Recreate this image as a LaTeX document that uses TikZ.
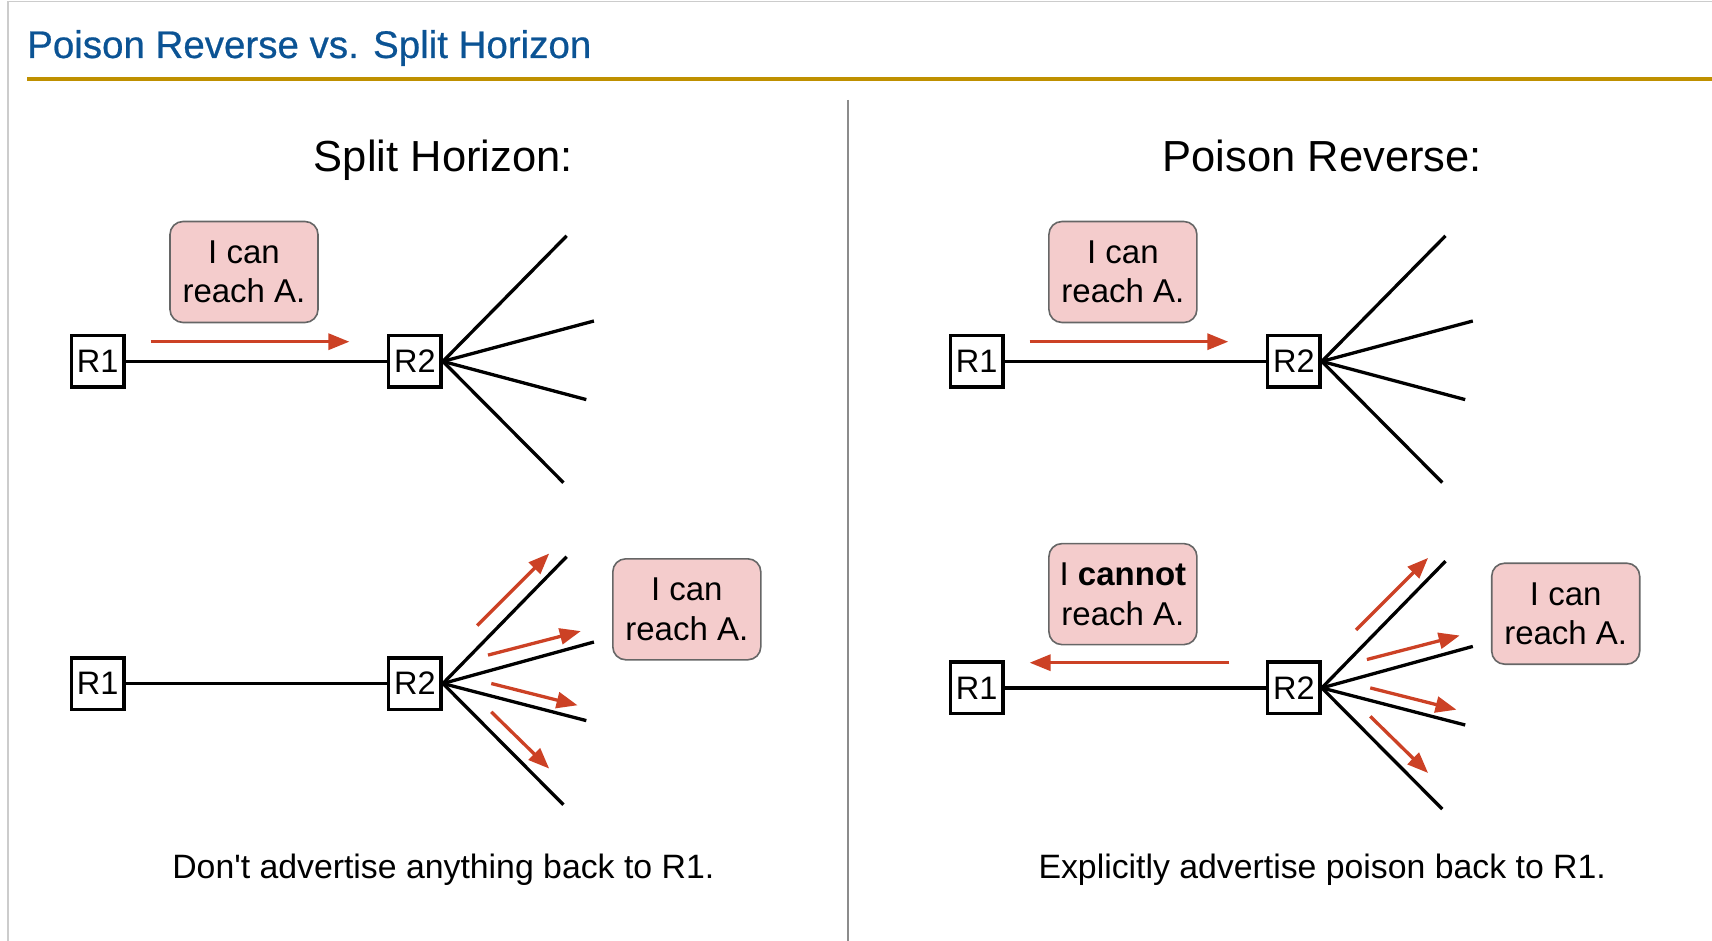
\documentclass[tikz,border=0pt]{standalone}
\usepackage{fontspec}
\setmainfont{Liberation Sans}
\usetikzlibrary{arrows.meta}

\definecolor{titleblue}{HTML}{0B5394}
\definecolor{rulegold}{HTML}{BF9000}
\definecolor{notepink}{HTML}{F4CCCC}
\definecolor{noteedge}{HTML}{666666}
\definecolor{advred}{HTML}{CC4125}
\definecolor{framegray}{HTML}{CCCCCC}
\definecolor{dividergray}{HTML}{8C8C8C}

\tikzset{
  router/.style={draw=black, line width=3.5pt, fill=white,
    minimum width=52.5pt, minimum height=51.5pt, inner sep=0pt,
    font=\fontsize{32.5}{38}\selectfont},
  link/.style={draw=black, line width=3.3pt},
  msg/.style={draw=noteedge, line width=1.6pt, fill=notepink,
    rounded corners=13pt, minimum width=148pt, minimum height=101pt,
    align=center, inner sep=0pt, font=\fontsize{33}{39.5}\selectfont},
  adv/.style={draw=advred, line width=3.3pt,
    -{Triangle[length=21pt,width=16pt]}},
  heading/.style={anchor=base, inner sep=0pt, font=\fontsize{43.5}{52}\selectfont},
  caption/.style={anchor=base, inner sep=0pt, font=\fontsize{33.8}{40}\selectfont},
}

\begin{document}
\begin{tikzpicture}[x=1pt,y=-1pt]
\useasboundingbox (0,0) rectangle (1712,941);

% page frame, title and rules
\draw[framegray, line width=1.5pt] (8,941) -- (8,1.5) -- (1712,1.5);
\node[anchor=base west, inner sep=0pt, text=titleblue,
      font=\fontsize{38.5}{47}\selectfont] (title) at (27,58)
      {\addfontfeature{FakeBold=0.6}Poison Reverse vs. Split Horizon};
\draw[rulegold, line width=4pt] (27,78.6) -- (1712,78.6);
\draw[dividergray, line width=2pt] (848,100) -- (848,941);

% column headings
\node[heading] (headL) at (443.3,172) {Split Horizon:};
\node[heading] (headR) at (1322.2,172) {Poison Reverse:};

% ---------- Split horizon, first step ----------
\node[router] (r1a) at (97.7,361.4) {R1};
\node[router] (r2a) at (414.9,361.4) {R2};
\draw[link] (r1a) -- (r2a);
\coordinate (a1) at (566.6,235.8);
\coordinate (a2) at (593.9,321);
\coordinate (a3) at (586.3,399.6);
\coordinate (a4) at (563.4,482.6);
\foreach \e in {a1,a2,a3,a4} \draw[link] (r2a.east) -- (\e);
\coordinate (sa) at (150.7,341.7);
\coordinate (ea) at (349.4,341.7);
\draw[adv] (sa) -- (ea);
\node[msg] (ma) at (244,272) {I can\\reach A.};

% ---------- Split horizon, second step ----------
\node[router] (r1b) at (97.7,683.5) {R1};
\node[router] (r2b) at (414.9,683.5) {R2};
\draw[link] (r1b) -- (r2b);
\coordinate (b1) at (566.6,556.8);
\coordinate (b2) at (593.9,642);
\coordinate (b3) at (586.3,720.6);
\coordinate (b4) at (563.4,804.7);
\foreach \e in {b1,b2,b3,b4} \draw[link] (r2b.east) -- (\e);
\coordinate (bs1) at (477.1,625.6); \coordinate (be1) at (549.2,553.5);
\coordinate (bs2) at (488,655.1);   \coordinate (be2) at (580.8,631.1);
\coordinate (bs3) at (491.3,683.5); \coordinate (be3) at (577.6,705.3);
\coordinate (bs4) at (491.3,711.9); \coordinate (be4) at (549.2,768.6);
\foreach \i in {1,2,3,4} \draw[adv] (bs\i) -- (be\i);
\node[msg] (mb) at (686.8,609.3) {I can\\reach A.};

\node[caption] (capL) at (443.3,878)
  {Don\textquotesingle t advertise anything back to R1.};

% ---------- Poison reverse, first step ----------
\begin{scope}[shift={(878.9,0)}]
\node[router] (r1c) at (97.7,361.4) {R1};
\node[router] (r2c) at (414.9,361.4) {R2};
\draw[link] (r1c) -- (r2c);
\coordinate (c1) at (566.6,235.8);
\coordinate (c2) at (593.9,321);
\coordinate (c3) at (586.3,399.6);
\coordinate (c4) at (563.4,482.6);
\foreach \e in {c1,c2,c3,c4} \draw[link] (r2c.east) -- (\e);
\coordinate (sc) at (150.7,341.7);
\coordinate (ec) at (349.4,341.7);
\draw[adv] (sc) -- (ec);
\node[msg] (mc) at (244,272) {I can\\reach A.};
\end{scope}

% ---------- Poison reverse, second step ----------
\begin{scope}[shift={(878.9,4.4)}]
\node[router] (r1d) at (97.7,683.5) {R1};
\node[router] (r2d) at (414.9,683.5) {R2};
\draw[link] (r1d) -- (r2d);
\coordinate (d1) at (566.6,556.8);
\coordinate (d2) at (593.9,642);
\coordinate (d3) at (586.3,720.6);
\coordinate (d4) at (563.4,804.7);
\foreach \e in {d1,d2,d3,d4} \draw[link] (r2d.east) -- (\e);
\coordinate (ds1) at (477.1,625.6); \coordinate (de1) at (549.2,553.5);
\coordinate (ds2) at (488,655.1);   \coordinate (de2) at (580.8,631.1);
\coordinate (ds3) at (491.3,683.5); \coordinate (de3) at (577.6,705.3);
\coordinate (ds4) at (491.3,711.9); \coordinate (de4) at (549.2,768.6);
\foreach \i in {1,2,3,4} \draw[adv] (ds\i) -- (de\i);
\coordinate (sd) at (350.5,658.3);
\coordinate (ed) at (150.7,658.3);
\draw[adv] (sd) -- (ed);
\node[msg] (md) at (244,589.7) {I \textbf{cannot}\\reach A.};
\node[msg] (me) at (686.8,609.3) {I can\\reach A.};
\end{scope}

\node[caption] (capR) at (1322.2,878)
  {Explicitly advertise poison back to R1.};
\end{tikzpicture}
\end{document}
